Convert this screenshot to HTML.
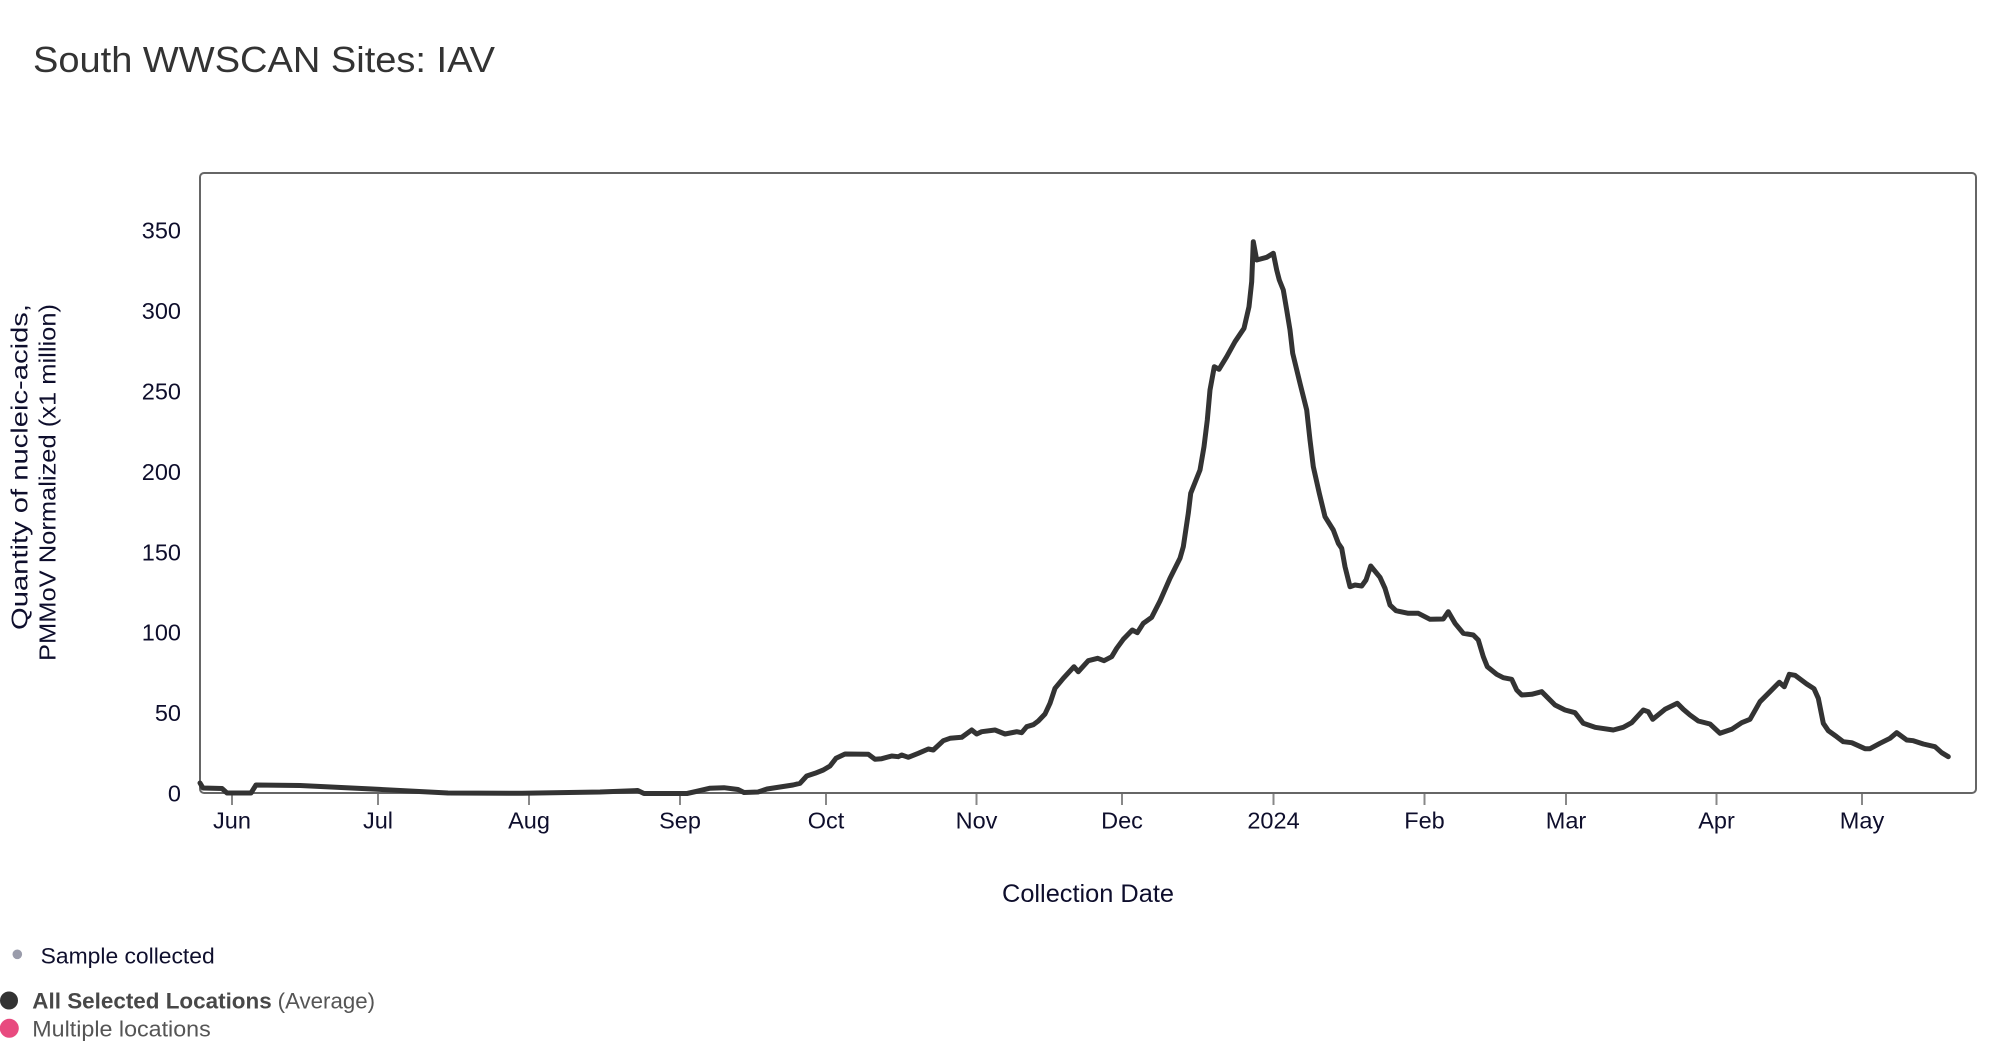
<!DOCTYPE html>
<html>
<head>
<meta charset="utf-8">
<style>
  html, body { margin: 0; padding: 0; background: #ffffff; }
  body { width: 2016px; height: 1060px; overflow: hidden; }
  svg { display: block; }
  text { font-family: "Liberation Sans", "DejaVu Sans", sans-serif; }
</style>
</head>
<body>
<svg width="2016" height="1060" viewBox="0 0 2016 1060" xmlns="http://www.w3.org/2000/svg">
  <rect x="0" y="0" width="2016" height="1060" fill="#ffffff"/>

  <!-- Title -->
  <text x="33" y="72" font-size="36" fill="#333333" textLength="462" lengthAdjust="spacingAndGlyphs">South WWSCAN Sites: IAV</text>

  <!-- Plot frame -->
  <rect x="200" y="173" width="1776" height="620" rx="4" ry="4" fill="none" stroke="#666666" stroke-width="2"/>

  <!-- Y tick labels -->
  <g font-size="23.5" fill="#0e0e2c" text-anchor="end">
    <text x="181" y="801.5">0</text>
    <text x="181" y="721.1">50</text>
    <text x="181" y="640.7">100</text>
    <text x="181" y="560.3">150</text>
    <text x="181" y="479.9">200</text>
    <text x="181" y="399.5">250</text>
    <text x="181" y="319.1">300</text>
    <text x="181" y="238.7">350</text>
  </g>

  <!-- X ticks -->
  <g stroke="#888888" stroke-width="2">
    <line x1="232" y1="794" x2="232" y2="805"/>
    <line x1="378" y1="794" x2="378" y2="805"/>
    <line x1="529" y1="794" x2="529" y2="805"/>
    <line x1="680" y1="794" x2="680" y2="805"/>
    <line x1="826" y1="794" x2="826" y2="805"/>
    <line x1="976.5" y1="794" x2="976.5" y2="805"/>
    <line x1="1122" y1="794" x2="1122" y2="805"/>
    <line x1="1273.5" y1="794" x2="1273.5" y2="805"/>
    <line x1="1424.5" y1="794" x2="1424.5" y2="805"/>
    <line x1="1566" y1="794" x2="1566" y2="805"/>
    <line x1="1716.5" y1="794" x2="1716.5" y2="805"/>
    <line x1="1862" y1="794" x2="1862" y2="805"/>
  </g>

  <!-- X tick labels -->
  <g font-size="23.5" fill="#0e0e2c" text-anchor="middle">
    <text x="232" y="828.5">Jun</text>
    <text x="378" y="828.5">Jul</text>
    <text x="529" y="828.5">Aug</text>
    <text x="680" y="828.5">Sep</text>
    <text x="826" y="828.5">Oct</text>
    <text x="976.5" y="828.5">Nov</text>
    <text x="1122" y="828.5">Dec</text>
    <text x="1273.5" y="828.5">2024</text>
    <text x="1424.5" y="828.5">Feb</text>
    <text x="1566" y="828.5">Mar</text>
    <text x="1716.5" y="828.5">Apr</text>
    <text x="1862" y="828.5">May</text>
  </g>

  <!-- Axis titles -->
  <text x="1002" y="902" font-size="25" fill="#0e0e2c" textLength="172" lengthAdjust="spacingAndGlyphs">Collection Date</text>
  <g transform="rotate(-90)" font-size="23" fill="#0e0e2c" text-anchor="end">
    <text x="-304" y="27.5" textLength="326" lengthAdjust="spacingAndGlyphs">Quantity of nucleic-acids,</text>
    <text x="-304" y="55.5" textLength="357" lengthAdjust="spacingAndGlyphs">PMMoV Normalized (x1 million)</text>
  </g>

  <!-- Data series -->
  <polyline fill="none" stroke="#333333" stroke-width="5" stroke-linejoin="round" stroke-linecap="round"
    points="200,783 203,788 222,788.5 227,793 251,793 256,785 300,785.5 372,789 448,793 522,793.3 600,792 637.7,790.5 644,793.5 687,793.5 696,791.5 709.5,788.3 724,787.7 738,789.5 744,792.5 758,792 767,789 793,785 800,783.3 806.7,776 815,773.3 823.3,770 830,766 836,758.3 845,754 868.3,754.3 875,759.3 881.7,758.7 891.7,756 898.3,756.7 901.7,755 908.3,757.3 918.3,753.3 928.3,749 933.3,750 943.3,740.7 950,738.3 961.7,737.3 971.7,730 976.7,734 981.7,731.7 995,730 1005,734 1016.7,731.7 1021.7,732.7 1026.7,726.7 1033.3,724.7 1038.3,721 1045,714 1050,703.3 1055,688.3 1063.3,678.3 1074,666.7 1078.3,671.7 1088.3,660.7 1097.7,658.3 1104,660.7 1111.7,656.7 1116.7,648.3 1123.3,639.3 1132.3,630 1137.3,632.7 1143.3,623.3 1151.7,617.3 1160,601 1170,578.3 1180,558.3 1183.3,546.7 1188.3,513.3 1190.7,493.3 1200,470 1204,446.7 1207.3,420 1210,390 1214.3,366.7 1219,369.3 1226.7,356.7 1235,341.7 1244,328.3 1249,306.7 1251.7,281.7 1253.3,241.7 1256.7,260 1266.7,257.3 1273.3,253.3 1276.7,270 1279.3,280 1283.3,290 1286.7,310 1290,330 1292.7,353.3 1300,383.3 1306.7,410 1310,440 1313.3,466.7 1319.3,493.3 1325,516.7 1333.3,530 1338.3,543.3 1341.7,548.3 1345,566.7 1350,586.7 1355,585 1361.7,586 1366,580 1370.7,566 1380,577.3 1385,588.3 1390,605 1396,610.7 1408.3,613.3 1418.3,613.3 1430,619.3 1443.3,619 1448.3,611.7 1455,623.3 1463.3,633.3 1473.3,635 1478.3,640 1483.3,656.7 1487.3,666.7 1496.7,674.3 1503.3,677.7 1511.7,679.3 1516.7,690 1521.7,695 1531.7,694.3 1541.7,691.7 1546.7,696.7 1555,705 1565,710 1575,712.7 1583.3,723.3 1595,727.3 1613.3,730 1623.3,727.3 1631.7,722.7 1643.3,710 1648.3,711.7 1652.7,719.3 1665,709.3 1677.3,703.3 1683.3,709.3 1690,715 1698.3,721 1710,724 1720,733.3 1731.7,729.3 1741.7,722.7 1750,719.3 1760,701.7 1770,691.7 1779.3,682.3 1784.3,686.7 1789.3,674.3 1795,675.3 1806.7,684 1814,688.7 1818.3,698.3 1823.3,723.3 1828.3,730.7 1836.7,736.7 1843.3,741.7 1851.7,742.7 1865,748.7 1870,748.7 1880,743.3 1890,738.3 1896.7,732.7 1906.7,740 1913.3,740.7 1923.3,744 1935,746.7 1941.7,752.7 1948.3,756.7"/>

  <!-- Legend -->
  <circle cx="17.3" cy="954.3" r="4.8" fill="#9a9cab"/>
  <text x="40.7" y="963.3" font-size="22" fill="#0f0f2d" textLength="174" lengthAdjust="spacingAndGlyphs">Sample collected</text>

  <circle cx="9" cy="1000.5" r="9" fill="#333333"/>
  <text x="32.3" y="1008.3" font-size="22" font-weight="bold" fill="#484848" textLength="239.4" lengthAdjust="spacingAndGlyphs">All Selected Locations</text>
  <text x="277.7" y="1008.3" font-size="22" fill="#555555" textLength="97.3" lengthAdjust="spacingAndGlyphs">(Average)</text>

  <circle cx="9.3" cy="1028.3" r="9.5" fill="#e84a7f"/>
  <text x="32.3" y="1036.7" font-size="22" fill="#555555" textLength="178.4" lengthAdjust="spacingAndGlyphs">Multiple locations</text>
</svg>
</body>
</html>
